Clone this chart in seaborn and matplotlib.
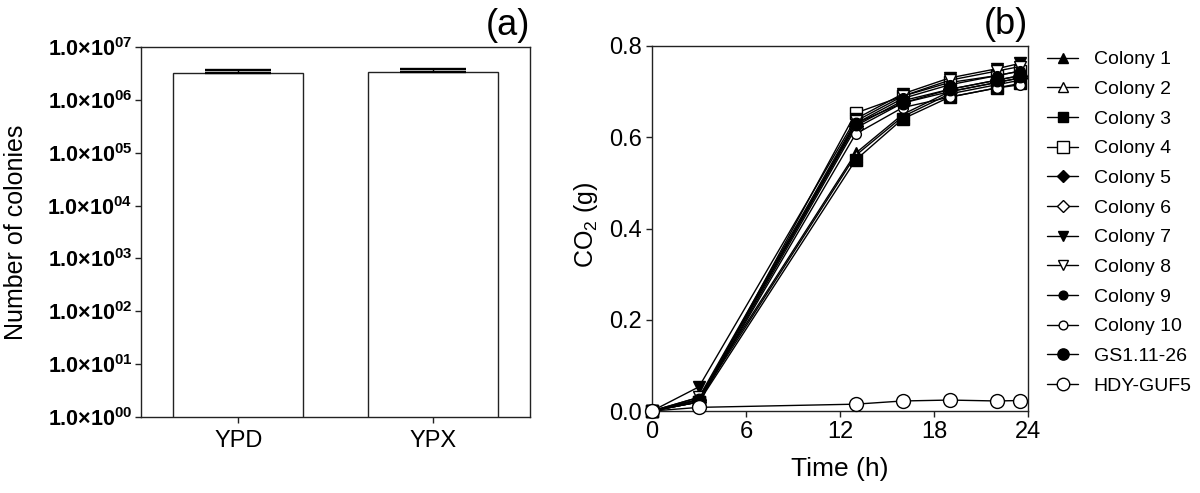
import matplotlib
matplotlib.use("Agg")
import matplotlib.pyplot as plt
import seaborn as sns
import numpy as np
from matplotlib.ticker import FixedLocator, FixedFormatter, NullLocator

# ---------------- data ----------------
media = ["YPD", "YPX"]
colony_counts = [3.2e6, 3.3e6]
colony_err = [0.4e6, 0.5e6]
log_ticks = [1e0, 1e1, 1e2, 1e3, 1e4, 1e5, 1e6, 1e7]
log_tick_labels = ["00", "01", "02", "03", "04", "05", "06", "07"]

time_h = [0, 3, 13, 16, 19, 22, 23.5]
series_names = ["Colony 1", "Colony 2", "Colony 3", "Colony 4", "Colony 5",
                "Colony 6", "Colony 7", "Colony 8", "Colony 9", "Colony 10",
                "GS1.11-26", "HDY-GUF5"]
colony1 = [0.0, 0.030, 0.565, 0.650, 0.700, 0.720, 0.730]
colony2 = [0.0, 0.025, 0.560, 0.645, 0.695, 0.715, 0.725]
colony3 = [0.0, 0.020, 0.550, 0.640, 0.688, 0.708, 0.718]
colony4 = [0.0, 0.020, 0.653, 0.690, 0.720, 0.735, 0.745]
colony5 = [0.0, 0.025, 0.625, 0.680, 0.705, 0.725, 0.735]
colony6 = [0.0, 0.020, 0.620, 0.675, 0.700, 0.720, 0.730]
colony7 = [0.0, 0.053, 0.640, 0.695, 0.730, 0.750, 0.762]
colony8 = [0.0, 0.030, 0.635, 0.690, 0.725, 0.745, 0.755]
colony9 = [0.0, 0.025, 0.630, 0.685, 0.715, 0.735, 0.745]
colony10 = [0.0, 0.020, 0.607, 0.665, 0.688, 0.708, 0.715]
gs1_11_26 = [0.0, 0.025, 0.630, 0.675, 0.705, 0.725, 0.735]
hdy_guf5 = [0.0, 0.008, 0.015, 0.022, 0.024, 0.022, 0.023]
series_values = [colony1, colony2, colony3, colony4, colony5, colony6,
                 colony7, colony8, colony9, colony10, gs1_11_26, hdy_guf5]

markers = ["^", "^", "s", "s", "D", "D", "v", "v", "o", "o", "o", "o"]
filled = [True, False, True, False, True, False, True, False, True, False, True, False]
msizes = [8, 8, 8, 9, 7, 7, 8, 8, 7, 7, 9, 10]

# ---------------- style ----------------
sns.set_theme(style="ticks")
plt.rcParams["font.family"] = ["Liberation Sans", "DejaVu Sans"]
plt.rcParams["mathtext.fontset"] = "custom"
plt.rcParams["mathtext.rm"] = "Liberation Sans"
plt.rcParams["mathtext.bf"] = "Liberation Sans:bold"
plt.rcParams["mathtext.it"] = "Liberation Sans:italic"
for k in ["text.color", "axes.labelcolor", "xtick.color", "ytick.color"]:
    plt.rcParams[k] = "black"

spine_col = "#222222"

fig = plt.figure(figsize=(12, 4.93), dpi=100)
ax1 = fig.add_axes([0.1175, 0.1542, 0.3242, 0.7505])
ax2 = fig.add_axes([0.5433, 0.1663, 0.3133, 0.7404])

# ---------------- panel (a) ----------------
sns.barplot(x=media, y=colony_counts, ax=ax1, color="white",
            edgecolor=spine_col, linewidth=1.0, width=0.67, errorbar=None,
            saturation=1)
ax1.set_yscale("log")
ax1.errorbar(x=[0, 1], y=colony_counts,
             yerr=[[0, 0], colony_err], fmt="none", ecolor="black",
             elinewidth=1.0, capsize=24, capthick=1.7)
ax1.set_ylim(1, 1e7)
ax1.set_xlim(-0.5, 1.5)
ax1.yaxis.set_major_locator(FixedLocator(log_ticks))
ax1.yaxis.set_major_formatter(FixedFormatter(
    ["1.0\u00d710$^{\\mathbf{" + s + "}}$" for s in log_tick_labels]))
ax1.yaxis.set_minor_locator(NullLocator())
for lab in ax1.get_yticklabels():
    lab.set_fontweight("bold")
ax1.tick_params(axis="y", labelsize=15.5, length=4, width=1.0, pad=2,
                color=spine_col, direction="out")
ax1.tick_params(axis="x", labelsize=17, length=4.5, width=1.0, pad=5,
                color=spine_col, direction="out")
ax1.set_xlabel("")
ax1.set_ylabel("Number of colonies", fontsize=18)
ax1.yaxis.set_label_coords(-0.29, 0.5)
for sp in ax1.spines.values():
    sp.set_visible(True)
    sp.set_color(spine_col)
    sp.set_linewidth(1.0)
ax1.text(1.0, 1.01, "(a)", transform=ax1.transAxes, ha="right", va="bottom",
         fontsize=26)

# ---------------- panel (b) ----------------
for name, vals, mk, fl, ms in zip(series_names, series_values, markers, filled, msizes):
    sns.lineplot(x=time_h, y=vals, ax=ax2, color="black", linewidth=1.0,
                 marker=mk, markersize=ms,
                 markerfacecolor="black" if fl else "white",
                 markeredgecolor="black", markeredgewidth=1.0,
                 label=name, clip_on=False, zorder=3)
ax2.set_xlim(0, 24)
ax2.set_ylim(0, 0.8)
ax2.set_xticks([0, 6, 12, 18, 24])
ax2.set_yticks([0.0, 0.2, 0.4, 0.6, 0.8])
ax2.set_yticklabels(["0.0", "0.2", "0.4", "0.6", "0.8"])
ax2.tick_params(axis="both", labelsize=17, length=4, width=1.0, pad=3,
                color=spine_col, direction="out")
ax2.set_xlabel("Time (h)", fontsize=19, labelpad=10)
ax2.set_ylabel("CO$_2$ (g)", fontsize=18)
ax2.yaxis.set_label_coords(-0.138, 0.51)
for sp in ax2.spines.values():
    sp.set_visible(True)
    sp.set_color(spine_col)
    sp.set_linewidth(1.0)
ax2.text(1.0, 1.01, "(b)", transform=ax2.transAxes, ha="right", va="bottom",
         fontsize=26)

h, l = ax2.get_legend_handles_labels()
ax2.legend_.remove()
fig.legend(h, l, loc="upper left", bbox_to_anchor=(0.8725, 0.897),
           frameon=False, fontsize=14, handlelength=1.6, handletextpad=0.8,
           labelspacing=0.62, borderpad=0, borderaxespad=0, markerscale=0.9)

fig.savefig("out.png", dpi=100)
